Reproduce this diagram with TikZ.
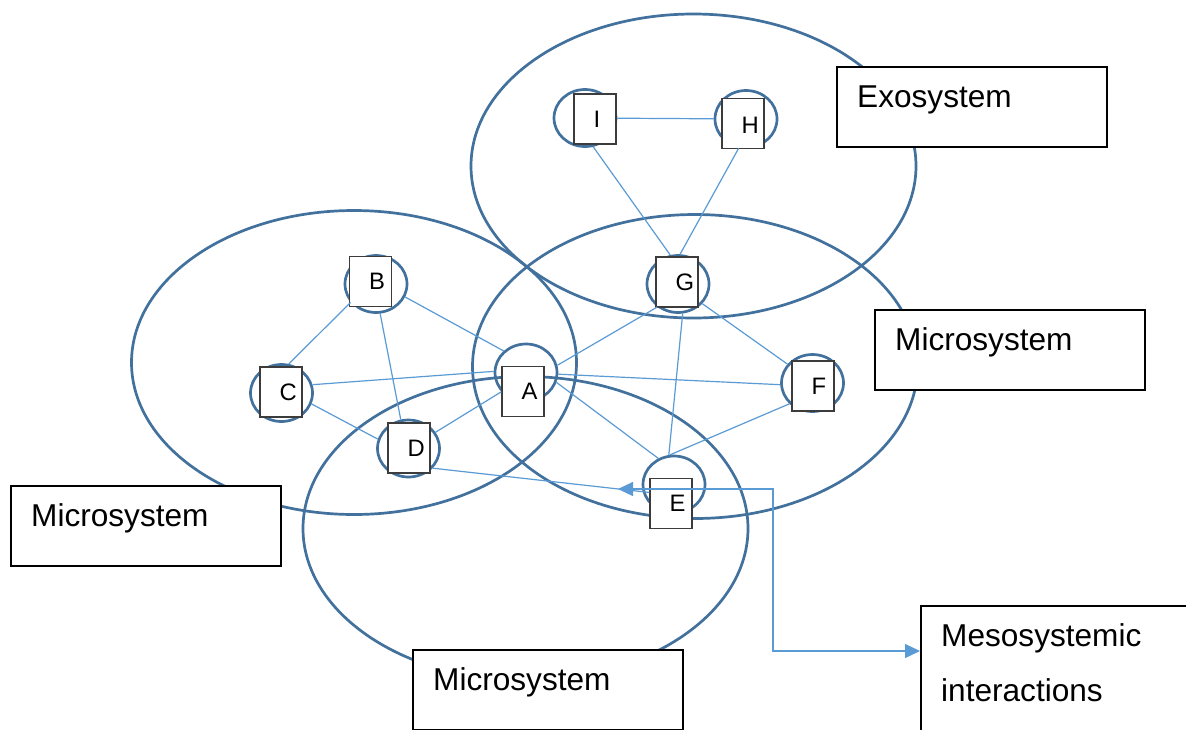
\documentclass[tikz,border=0pt]{standalone}
\usepackage{fontspec}
\setmainfont{Liberation Sans}
\usetikzlibrary{shapes.geometric,arrows.meta,calc}
\definecolor{sysblue}{RGB}{65,113,156}
\definecolor{linkblue}{RGB}{91,155,213}
\definecolor{framegray}{RGB}{60,60,60}
\begin{document}
\begin{tikzpicture}[x=1pt,y=-1pt,
  system/.style={ellipse, draw=sysblue, line width=2.7pt, inner sep=0pt,
    minimum width=445pt, minimum height=304pt},
  ring/.style={ellipse, draw=sysblue, line width=2.7pt, inner sep=0pt,
    minimum width=62pt, minimum height=57pt},
  member/.style={rectangle, draw=framegray, line width=1.4pt, fill=white,
    inner sep=0pt, minimum width=42pt, minimum height=50pt},
  letter/.style={anchor=west, inner sep=0pt, font=\fontsize{23.8}{28}\selectfont},
  labelbox/.style={rectangle, draw=black, line width=1.5pt, fill=white,
    inner sep=0pt, anchor=north west, minimum width=270pt, minimum height=80pt},
  labeltext/.style={anchor=base west, inner sep=0pt,
    font=\fontsize{31.6}{55}\selectfont},
  link/.style={draw=linkblue, line width=1.2pt},
  meso link/.style={link, >={Triangle[length=15pt, width=14pt]}, <->}
]
\useasboundingbox (0,0) rectangle (1186,729);
\clip (0,0) rectangle (1186,729);
\fill[white] (0,0) rectangle (1186,729);

% the four overlapping systems
\node[system] (exo)    at (693.5,166) {};
\node[system] (microL) at (354,362.5) {};
\node[system] (microR) at (695,366.5) {};
\node[system] (microB) at (525.5,528.5) {};

% rings round the members
\node[ring] (cI) at (585,118) {};
\node[ring] (cH) at (746,119) {};
\node[ring] (cB) at (376,284) {};
\node[ring] (cC) at (281.5,393) {};
\node[ring] (cD) at (408.5,448.5) {};
\node[ring] (cA) at (526,372.5) {};
\node[ring] (cG) at (678,284) {};
\node[ring] (cF) at (812.5,383) {};
\node[ring] (cE) at (674,484.5) {};

% member boxes
\node[member] (I) at (595,119) {};
\node[member] (H) at (743,123.5) {};
\node[member] (B) at (370.5,281.5) {};
\node[member] (C) at (281,392) {};
\node[member] (D) at (409,448) {};
\node[member] (A) at (523,391.5) {};
\node[member] (G) at (677,282) {};
\node[member] (F) at (813,386) {};
\node[member] (E) at (671,503.5) {};

\node[letter] at ([xshift=20pt]I.west) {I};
\node[letter] at ([xshift=20pt,yshift=-2pt]H.west) {H};
\node[letter] at ([xshift=20pt]B.west) {B};
\node[letter] at ([xshift=20pt]C.west) {C};
\node[letter] at ([xshift=20pt]D.west) {D};
\node[letter] at ([xshift=20pt]A.west) {A};
\node[letter] at ([xshift=20pt]G.west) {G};
\node[letter] at ([xshift=20pt]F.west) {F};
\node[letter] at ([xshift=20pt]E.west) {E};

% interactions between members
\draw[link] (cI) -- (cH);
\draw[link] (cI.-74) -- (cG.105);
\draw[link] (cH.256) -- (cG.86);
\draw[link] (cB.-24) -- (cA.136);
\draw[link] (cB.216) -- (cC.76);
\draw[link] (cB.-82) -- (cD.105);
\draw[link] (cC.15) -- (cA.178);
\draw[link] (cC.-20) -- (cD.163);
\draw[link] (cD.31) -- (cA.218);
\draw[link] (cD.-39) -- (E.153);
\draw[link] (cA.13) -- (cG.228);
\draw[link] (cA.-3) -- (cF.183);
\draw[link] (cA.-18) -- (cE.121);
\draw[link] (cG.-39) -- (cF.143);
\draw[link] (cG.-81) -- (cE.100);
\draw[link] (cF.222) -- (cE.98);

% label boxes
\node[labelbox] (exoBox) at (836,66) {};
\node[labeltext] at ($(exoBox.north west)+(21,41)$) {Exosystem};
\node[labelbox] (microRBox) at (874,309) {};
\node[labeltext] at ($(microRBox.north west)+(21,41)$) {Microsystem};
\node[labelbox] (microLBox) at (10,485) {};
\node[labeltext] at ($(microLBox.north west)+(21,41)$) {Microsystem};
\node[labelbox] (microBBox) at (412,649) {};
\node[labeltext] at ($(microBBox.north west)+(21,41)$) {Microsystem};
\node[labelbox, minimum width=300pt, minimum height=200pt] (mesoBox) at (920,605) {};
\node[labeltext, text width=240pt, align=left] at ($(mesoBox.north west)+(21,41)$)
  {Mesosystemic\\interactions};

% elbow connector to the mesosystem label
\coordinate (eTip) at (618,489);
\coordinate (mesoIn) at ($(mesoBox.north west)+(0,46)$);
\draw[meso link] (eTip) -- (773,489) |- (mesoIn);
\end{tikzpicture}
\end{document}
